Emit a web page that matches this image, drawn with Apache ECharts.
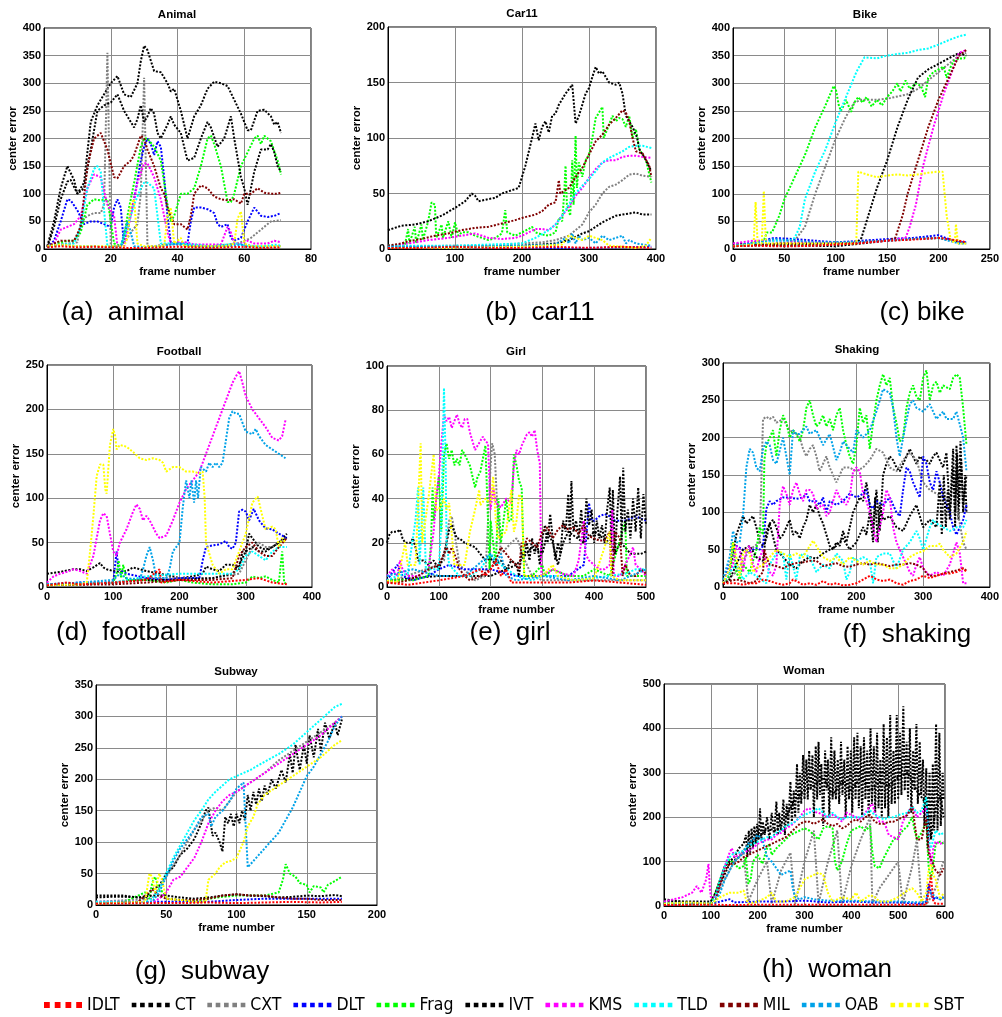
<!DOCTYPE html>
<html>
<head>
<meta charset="utf-8">
<script src="https://cdn.jsdelivr.net/npm/echarts@6/dist/echarts.min.js"></script>
<style>
html, body { margin: 0; padding: 0; background: #fff; }
#main { width: 1002px; height: 1017px; }
</style>
</head>
<body>
<div id="main"></div>
<script>
// trackers, in legend order
var trackers = ['IDLT', 'CT', 'CXT', 'DLT', 'Frag', 'IVT', 'KMS', 'TLD', 'MIL', 'OAB', 'SBT'];
var colors = ['#ff0000', '#000000', '#808080', '#0000ff', '#00ff00', '#000000', '#ff00ff', '#00ffff', '#800000', '#00a2e8', '#ffff00'];

var titles = ['Animal', 'Car11', 'Bike', 'Football', 'Girl', 'Shaking', 'Subway', 'Woman'];
var captions = ['(a)  animal', '(b)  car11', '(c) bike', '(d)  football', '(e)  girl', '(f)  shaking', '(g)  subway', '(h)  woman'];
var xMax = [80, 400, 250, 400, 500, 400, 200, 600];
var xStep = [20, 100, 50, 100, 100, 100, 50, 100];
var yMax = [400, 200, 400, 250, 100, 300, 350, 500];
var yStep = [50, 50, 50, 50, 20, 50, 50, 100];

// center error per frame, [frame, error]
var animal = {
  IDLT: [[1,3],[5,5],[10,3],[15,4],[20,3],[25,2],[30,2],[35,3],[40,4],[45,3],[50,2],[55,3],[60,4],[65,2],[71,3]],
  CT: [[1,5],[3,50],[5,110],[7,150],[9,125],[10,100],[12,120],[14,230],[16,260],[18,280],[20,300],[22,313],[24,280],[26,275],[28,300],[29,340],[30,368],[31,360],[33,322],[35,320],[37,300],[38,285],[39,290],[41,250],[43,200],[45,240],[47,260],[49,290],[51,303],[53,300],[55,295],[57,270],[59,245],[61,215],[62,215],[64,250],[66,252],[68,240],[69,225],[70,230],[71,210]],
  CXT: [[1,3],[4,8],[7,10],[10,12],[11,50],[13,60],[15,65],[17,65],[18,80],[19,355],[20,5],[22,5],[24,10],[26,30],[28,45],[29,100],[30,310],[31,5],[33,5],[36,8],[40,8],[45,5],[50,5],[55,8],[58,10],[60,15],[62,20],[65,35],[68,50],[71,52]],
  DLT: [[1,3],[3,15],[5,50],[7,90],[8,88],[10,70],[12,45],[14,50],[16,50],[18,45],[20,40],[21,75],[22,90],[23,75],[24,5],[25,40],[27,90],[29,160],[30,185],[31,200],[32,190],[33,170],[34,195],[35,185],[36,130],[37,60],[38,10],[40,10],[43,10],[44,50],[45,75],[47,75],[49,72],[51,65],[52,45],[53,40],[55,45],[56,20],[57,15],[59,20],[61,50],[63,75],[65,60],[67,58],[69,60],[71,65]],
  Frag: [[1,5],[3,10],[5,12],[7,15],[9,15],[11,30],[13,80],[15,90],[17,88],[19,90],[20,50],[21,10],[23,5],[24,20],[25,60],[27,120],[29,185],[30,200],[31,200],[33,185],[35,160],[37,80],[38,50],[39,60],[41,100],[43,100],[45,110],[47,150],[49,200],[50,205],[51,190],[53,150],[55,85],[56,85],[57,100],[59,150],[61,175],[63,200],[64,205],[65,190],[66,205],[68,195],[70,160],[71,135]],
  IVT: [[1,3],[3,40],[5,90],[7,122],[8,125],[10,100],[12,110],[14,180],[16,250],[18,260],[20,265],[22,280],[24,250],[26,230],[27,220],[28,235],[29,260],[30,230],[31,240],[32,255],[33,245],[34,210],[35,200],[37,225],[38,240],[39,225],[41,210],[43,160],[45,165],[47,200],[49,230],[50,220],[52,185],[54,200],[56,240],[57,200],[59,130],[60,110],[61,80],[63,140],[64,160],[65,180],[67,180],[68,190],[69,175],[70,150],[71,140]],
  KMS: [[1,5],[3,10],[5,35],[7,40],[9,45],[11,60],[13,110],[15,135],[17,130],[19,80],[20,70],[21,60],[22,5],[24,5],[26,60],[28,120],[30,155],[31,155],[33,130],[35,90],[37,30],[38,10],[40,12],[43,12],[45,8],[50,8],[53,8],[55,40],[56,30],[57,10],[59,10],[61,15],[63,10],[65,10],[67,10],[69,15],[71,12]],
  TLD: [[1,5],[5,8],[9,10],[11,40],[13,110],[15,145],[16,150],[17,140],[18,70],[19,5],[21,5],[23,5],[25,40],[27,80],[29,110],[30,120],[31,120],[33,110],[34,60],[35,10],[37,10],[40,10],[45,8],[50,5],[55,8],[58,10],[61,5],[65,5],[70,8],[71,5]],
  MIL: [[1,5],[3,10],[5,15],[7,15],[9,15],[11,40],[13,150],[15,200],[17,210],[19,180],[21,130],[22,128],[24,150],[26,160],[27,170],[29,205],[30,200],[31,180],[33,150],[35,110],[36,100],[37,75],[39,45],[41,45],[43,35],[44,60],[45,100],[47,115],[49,110],[51,95],[53,90],[55,88],[57,90],[59,82],[60,100],[62,100],[64,110],[66,102],[68,100],[70,100],[71,102]],
  OAB: [[1,3],[5,8],[10,5],[15,5],[20,3],[23,3],[24,30],[25,50],[26,30],[27,5],[30,3],[35,5],[40,10],[45,5],[50,3],[55,5],[60,8],[65,3],[71,5]],
  SBT: [[1,5],[5,8],[10,5],[15,5],[20,5],[24,5],[25,20],[26,80],[27,90],[28,10],[30,5],[36,5],[37,60],[38,75],[39,10],[41,20],[42,5],[45,5],[50,5],[55,5],[57,10],[58,55],[59,68],[60,10],[62,5],[65,5],[71,5]]
};

var car11 = {
  IDLT: [[0,1],[50,1],[100,2],[150,1],[200,1],[250,2],[300,1],[350,2],[393,1]],
  CT: [[0,1],[100,2],[200,3],[250,5],[270,8],[290,14],[300,16],[310,20],[320,24],[330,27],[340,30],[350,31],[360,32],[370,33],[380,31],[393,31]],
  CXT: [[0,2],[100,3],[150,3],[200,5],[230,6],[250,8],[270,12],[290,22],[300,33],[310,40],[320,50],[330,56],[340,58],[350,62],[360,67],[370,68],[380,66],[393,65]],
  DLT: [[0,2],[100,1],[200,1],[300,1],[393,2]],
  Frag: [[0,3],[25,3],[30,18],[32,5],[40,20],[42,5],[50,22],[52,8],[60,25],[65,42],[70,40],[72,10],[80,22],[82,10],[90,25],[95,10],[100,24],[105,12],[110,15],[120,15],[130,12],[140,10],[150,8],[160,10],[170,14],[175,35],[178,15],[190,12],[200,15],[210,18],[215,20],[220,15],[230,13],[240,12],[250,15],[255,28],[260,25],[263,50],[265,75],[267,40],[272,30],[275,80],[277,40],[280,102],[282,55],[285,78],[290,65],[295,80],[300,85],[305,100],[310,118],[315,123],[320,128],[322,100],[330,112],[335,120],[340,115],[345,118],[350,117],[355,110],[360,120],[365,100],[370,108],[375,90],[380,85],[385,80],[393,60]],
  IVT: [[0,17],[20,21],[40,22],[60,25],[80,30],[100,37],[115,43],[125,50],[130,48],[135,43],[150,45],[160,46],[170,50],[185,53],[195,55],[205,75],[215,100],[220,113],[225,98],[230,110],[235,115],[240,105],[245,120],[250,122],[255,130],[260,135],[265,140],[275,148],[280,113],[285,120],[290,130],[295,140],[300,145],[305,155],[310,164],[315,158],[320,160],[330,150],[340,148],[345,150],[350,140],[355,120],[365,110],[372,100],[375,90],[385,80],[393,70]],
  KMS: [[0,2],[30,5],[60,8],[90,10],[110,12],[130,14],[150,10],[170,9],[190,10],[200,12],[210,15],[220,18],[230,18],[240,17],[250,22],[260,30],[270,38],[280,48],[290,55],[300,64],[310,72],[320,78],[330,80],[340,80],[350,83],[360,84],[370,84],[380,83],[393,82]],
  TLD: [[0,3],[100,3],[200,5],[220,10],[240,17],[250,22],[260,30],[270,40],[280,50],[290,57],[300,63],[310,70],[320,78],[330,82],[340,85],[350,88],[360,92],[370,93],[380,93],[393,91]],
  MIL: [[0,3],[20,5],[30,7],[50,9],[70,12],[90,14],[110,17],[130,19],[150,20],[170,23],[190,26],[200,28],[220,31],[230,34],[240,40],[250,42],[255,62],[257,50],[270,55],[280,65],[290,73],[300,85],[310,97],[320,103],[330,112],[340,118],[350,125],[355,123],[360,115],[365,100],[370,88],[380,86],[390,75],[393,65]],
  OAB: [[0,2],[100,2],[200,3],[250,4],[265,10],[270,5],[275,14],[280,5],[285,12],[290,8],[300,10],[310,5],[320,12],[330,8],[340,10],[350,12],[355,5],[360,8],[370,5],[380,4],[393,3]],
  SBT: [[0,1],[100,1],[200,2],[260,4],[270,12],[280,10],[290,8],[300,12],[310,10],[320,8],[330,3],[350,2],[370,1],[385,3],[393,10]]
};

var bike = {
  IDLT: [[0,5],[20,6],[40,5],[60,5],[80,6],[100,8],[120,10],[150,15],[175,17],[200,20],[210,18],[220,15],[227,12]],
  CT: [[0,10],[25,8],[50,5],[75,6],[100,5],[125,10],[150,15],[175,18],[200,20],[215,15],[227,12]],
  CXT: [[0,5],[40,10],[60,15],[70,40],[80,100],[90,150],[100,200],[110,240],[118,265],[125,270],[140,270],[150,272],[170,280],[180,290],[190,305],[200,320],[210,335],[220,350],[227,355]],
  DLT: [[0,5],[20,12],[40,20],[60,18],[80,15],[100,12],[125,15],[150,18],[175,20],[200,25],[210,18],[220,12],[227,12]],
  Frag: [[0,5],[20,10],[30,15],[33,30],[38,30],[45,60],[50,90],[60,130],[70,170],[80,220],[90,260],[98,295],[100,290],[103,260],[105,250],[108,260],[110,270],[115,248],[118,265],[122,275],[126,265],[130,275],[135,258],[140,270],[145,260],[150,275],[155,285],[160,300],[163,285],[168,305],[172,290],[178,300],[183,295],[187,275],[190,310],[195,320],[200,325],[205,330],[208,310],[212,330],[215,340],[220,345],[225,345],[227,350]],
  IVT: [[0,5],[50,8],[100,10],[120,10],[125,20],[130,50],[140,110],[150,160],[160,220],[170,270],[175,290],[180,310],[190,325],[200,335],[210,345],[220,355],[227,350]],
  KMS: [[0,10],[20,15],[50,15],[75,12],[100,10],[125,12],[150,15],[168,20],[172,40],[178,80],[185,150],[195,220],[205,280],[215,330],[220,355],[227,360]],
  TLD: [[0,5],[20,10],[40,15],[55,15],[60,20],[65,40],[70,90],[80,140],[90,180],[100,230],[110,275],[120,320],[128,347],[140,345],[150,350],[160,353],[170,355],[180,360],[190,363],[200,370],[210,378],[220,385],[227,388]],
  MIL: [[0,5],[50,10],[100,10],[150,15],[158,20],[165,60],[170,100],[180,160],[190,220],[200,270],[210,310],[220,350],[227,360]],
  OAB: [[0,5],[20,10],[40,18],[60,15],[80,12],[100,12],[125,13],[150,15],[175,18],[200,20],[210,15],[220,10],[227,10]],
  SBT: [[0,5],[20,8],[22,85],[24,10],[28,10],[30,105],[32,10],[50,10],[100,10],[120,10],[122,140],[130,135],[140,130],[150,133],[160,135],[170,133],[180,135],[190,138],[200,140],[204,140],[208,60],[212,15],[216,12],[217,45],[219,10],[227,10]]
};

var football = {
  IDLT: [[0,2],[30,5],[50,3],[100,5],[150,8],[170,20],[172,5],[200,8],[250,5],[300,8],[320,10],[340,5],[362,3]],
  CT: [[0,15],[20,17],[40,20],[50,20],[60,18],[70,22],[80,27],[85,22],[90,20],[100,18],[110,17],[120,18],[130,22],[140,20],[150,18],[170,15],[190,12],[200,10],[220,12],[235,15],[240,23],[250,20],[260,18],[270,25],[280,25],[290,20],[295,40],[300,40],[305,60],[310,55],[320,45],[330,42],[340,45],[350,50],[362,60]],
  CXT: [[0,2],[100,5],[150,10],[200,10],[250,10],[290,15],[300,30],[310,45],[320,50],[330,45],[340,45],[350,50],[362,55]],
  DLT: [[0,3],[50,5],[100,5],[105,40],[108,20],[120,15],[150,10],[180,8],[200,10],[230,10],[235,30],[240,45],[250,47],[260,48],[270,52],[275,45],[280,43],[285,50],[290,85],[295,87],[300,85],[305,75],[312,88],[320,75],[330,66],[340,65],[350,60],[362,55]],
  Frag: [[0,2],[50,3],[100,5],[105,15],[108,30],[112,10],[115,25],[120,8],[150,8],[180,5],[200,8],[220,5],[250,3],[280,3],[300,5],[310,12],[320,10],[330,12],[340,8],[350,5],[355,40],[358,5],[362,3]],
  IVT: [[0,3],[50,3],[100,5],[150,8],[200,8],[250,10],[280,15],[290,25],[300,40],[310,45],[320,40],[330,40],[340,45],[350,50],[362,55]],
  KMS: [[0,5],[10,12],[20,15],[30,17],[40,20],[50,18],[60,15],[70,35],[80,75],[85,83],[90,80],[95,60],[100,40],[105,35],[110,50],[120,65],[130,85],[135,93],[140,88],[145,75],[150,80],[155,75],[165,60],[170,55],[180,58],[190,75],[200,95],[210,110],[220,120],[230,130],[240,150],[250,170],[260,190],[270,210],[280,230],[285,237],[290,243],[295,230],[300,215],[310,200],[320,190],[330,180],[340,168],[350,165],[355,170],[360,188]],
  TLD: [[0,3],[100,5],[150,12],[200,15],[250,15],[280,15],[290,20],[300,35],[310,40],[320,35],[330,30],[340,40],[350,45],[362,45]],
  MIL: [[0,2],[100,3],[150,5],[200,8],[250,8],[280,10],[290,35],[300,45],[310,50],[320,40],[330,35],[340,35],[350,45],[362,55]],
  OAB: [[0,3],[50,5],[100,8],[110,15],[120,10],[140,8],[145,20],[150,35],[155,45],[160,30],[165,10],[180,10],[185,20],[190,40],[195,45],[200,50],[205,90],[210,120],[215,100],[218,120],[222,95],[225,120],[228,100],[232,135],[240,130],[245,140],[250,135],[255,140],[260,135],[265,140],[270,165],[275,190],[280,198],[285,195],[290,195],[295,185],[300,175],[310,172],[315,178],[320,170],[330,160],[340,155],[350,150],[360,145]],
  SBT: [[0,2],[50,3],[60,5],[65,40],[70,80],[75,125],[80,138],[85,138],[88,110],[90,105],[95,160],[100,178],[103,170],[105,155],[110,160],[120,158],[130,152],[140,145],[150,143],[160,145],[170,143],[175,140],[180,130],[190,135],[200,135],[210,130],[220,130],[230,128],[235,130],[238,100],[240,50],[250,25],[260,15],[270,20],[280,20],[290,40],[300,60],[310,95],[318,102],[325,80],[330,65],[340,68],[345,65],[350,45],[355,55],[360,50]]
};

var girl = {
  IDLT: [[0,2],[40,1],[100,3],[150,5],[180,8],[190,5],[200,8],[210,12],[220,5],[230,8],[240,2],[300,2],[350,2],[400,3],[450,2],[500,1]],
  CT: [[0,3],[100,5],[200,5],[250,10],[280,18],[300,15],[310,25],[320,20],[330,10],[340,20],[350,25],[380,20],[400,25],[430,20],[440,15],[450,20],[460,18],[470,15],[480,15],[490,15],[500,16]],
  CXT: [[0,2],[100,10],[110,12],[120,30],[125,32],[130,25],[140,10],[170,3],[190,5],[200,55],[203,65],[208,60],[212,40],[220,15],[240,20],[250,22],[255,20],[260,15],[280,5],[300,3],[400,3],[500,3]],
  DLT: [[0,3],[20,10],[30,5],[50,3],[80,5],[100,8],[120,10],[150,8],[200,8],[250,5],[300,5],[330,5],[350,5],[380,10],[390,38],[395,30],[400,30],[410,32],[420,33],[430,32],[440,30],[450,30],[460,30],[470,31],[480,32],[490,31],[500,30]],
  Frag: [[0,3],[50,3],[80,5],[85,20],[88,45],[90,30],[95,40],[100,50],[105,25],[110,60],[115,65],[120,58],[125,62],[130,55],[135,58],[140,55],[145,62],[150,60],[160,55],[170,45],[175,50],[180,52],[185,58],[190,64],[195,30],[198,8],[200,30],[205,20],[210,10],[215,40],[220,20],[230,40],[235,30],[240,30],[245,60],[250,55],[255,48],[260,45],[263,20],[265,5],[280,5],[300,10],[305,5],[320,8],[350,5],[380,5],[400,8],[430,5],[460,30],[463,5],[500,5]],
  IVT: [[0,20],[5,24],[10,25],[20,25],[25,26],[30,22],[35,20],[45,20],[50,22],[55,18],[60,12],[70,12],[80,10],[90,12],[100,8],[110,15],[115,20],[120,26],[125,28],[130,25],[135,22],[140,22],[150,20],[160,19],[170,18],[180,15],[190,12],[200,13],[210,10],[220,12],[230,8],[240,12],[250,10],[255,5],[260,16],[265,14],[270,20],[275,12],[280,22],[285,15],[290,20],[295,10],[300,22],[305,28],[310,20],[315,33],[320,22],[325,12],[330,20],[335,15],[340,30],[345,25],[350,42],[353,20],[356,48],[360,25],[365,30],[370,22],[375,35],[380,20],[385,40],[390,28],[395,35],[400,20],[405,30],[410,22],[415,28],[420,20],[425,35],[430,45],[433,20],[436,44],[440,15],[445,35],[450,50],[453,20],[456,54],[460,25],[465,35],[470,22],[475,40],[480,25],[485,45],[490,22],[495,42],[500,28]],
  KMS: [[0,5],[10,8],[20,5],[25,12],[30,8],[40,5],[60,5],[80,8],[90,25],[95,40],[100,50],[105,65],[110,78],[115,75],[120,77],[125,72],[130,75],[135,78],[140,74],[145,72],[150,76],[155,76],[160,70],[170,62],[180,66],[185,68],[190,66],[195,65],[200,35],[205,45],[210,38],[220,36],[230,40],[240,38],[245,55],[250,62],[255,60],[260,64],[270,69],[275,70],[280,68],[285,71],[290,62],[295,56],[298,5],[300,5],[320,8],[340,6],[360,5],[370,12],[380,30],[383,15],[390,12],[400,10],[410,8],[420,8],[430,10],[435,35],[438,5],[450,5],[460,10],[470,15],[475,18],[480,10],[490,8],[500,5]],
  TLD: [[0,3],[20,5],[40,6],[55,30],[60,45],[63,10],[70,45],[75,8],[100,8],[105,30],[110,90],[113,60],[115,20],[120,10],[140,5],[160,5],[180,8],[200,15],[220,10],[250,5],[280,3],[300,5],[330,5],[360,3],[400,4],[430,5],[460,6],[480,8],[500,8]],
  MIL: [[0,2],[20,2],[40,3],[60,5],[80,8],[100,10],[110,15],[115,18],[120,15],[125,18],[130,15],[135,12],[140,8],[150,5],[160,3],[180,5],[200,8],[210,12],[220,18],[230,15],[240,12],[250,10],[255,8],[260,20],[265,18],[270,22],[280,20],[290,18],[300,25],[310,27],[320,22],[330,26],[340,28],[350,26],[360,27],[370,24],[380,28],[390,23],[400,22],[410,21],[420,21],[430,25],[435,5],[440,25],[450,22],[455,5],[460,10],[470,5],[480,5],[490,8],[500,6]],
  OAB: [[0,5],[50,8],[100,5],[150,5],[200,15],[210,10],[220,15],[230,5],[250,3],[300,5],[350,3],[400,5],[450,3],[500,8]],
  SBT: [[0,3],[20,2],[35,20],[40,10],[55,10],[65,65],[68,20],[80,40],[90,60],[95,35],[100,35],[110,40],[115,35],[120,38],[130,10],[150,10],[160,25],[170,35],[178,44],[180,37],[190,40],[200,38],[205,50],[210,30],[215,22],[230,25],[240,44],[245,25],[250,30],[255,42],[260,40],[265,5],[300,5],[320,10],[330,5],[360,3],[400,4],[430,25],[433,5],[450,3],[500,3]]
};

var shaking = {
  IDLT: [[0,5],[20,5],[30,3],[40,5],[50,5],[60,10],[70,8],[80,5],[90,3],[100,5],[105,10],[110,8],[120,3],[130,5],[140,3],[150,8],[160,3],[170,5],[180,2],[190,3],[200,5],[210,10],[220,15],[225,13],[230,10],[240,8],[250,10],[260,5],[270,3],[280,8],[290,10],[300,15],[310,12],[320,15],[330,18],[340,18],[350,20],[360,25],[365,20]],
  CT: [[0,5],[10,20],[20,70],[30,95],[35,85],[40,90],[45,95],[50,80],[55,60],[60,55],[65,65],[70,85],[75,90],[80,80],[85,65],[90,70],[95,80],[100,90],[105,70],[110,75],[115,65],[120,80],[125,90],[130,110],[135,100],[140,110],[145,95],[150,85],[155,70],[160,55],[165,50],[170,60],[175,55],[180,75],[185,60],[190,80],[195,100],[200,110],[205,120],[210,115],[215,140],[220,110],[225,80],[230,130],[235,75],[240,150],[245,165],[250,175],[255,170],[260,160],[265,155],[270,165],[275,175],[280,185],[285,175],[290,165],[295,175],[300,170],[305,170],[310,165],[315,175],[320,180],[325,170],[330,160],[335,180],[340,100],[345,185],[348,80],[350,190],[353,90],[356,195],[360,100],[363,150],[365,100]],
  CXT: [[0,5],[20,20],[40,50],[55,60],[60,225],[65,228],[70,225],[75,228],[80,220],[90,225],[100,210],[110,205],[115,200],[120,185],[125,175],[130,185],[135,190],[140,175],[145,155],[150,165],[155,175],[160,160],[170,140],[175,150],[180,160],[190,160],[200,155],[210,160],[220,170],[230,185],[240,180],[250,160],[260,155],[270,170],[280,180],[290,170],[300,140],[310,130],[320,125],[330,120],[340,115],[350,110],[360,60],[365,50]],
  DLT: [[0,5],[10,30],[15,50],[20,55],[30,50],[40,48],[50,52],[55,50],[60,55],[65,105],[70,115],[75,110],[80,115],[90,120],[100,120],[110,118],[120,120],[125,125],[130,115],[140,115],[145,110],[150,120],[155,100],[160,115],[170,110],[180,115],[190,125],[200,120],[210,125],[215,130],[220,110],[225,105],[230,115],[240,110],[250,120],[255,110],[260,100],[265,95],[270,130],[275,160],[280,155],[285,140],[290,130],[295,120],[300,175],[305,165],[310,140],[315,130],[320,155],[325,140],[330,120],[340,100],[345,80],[350,70],[355,80],[360,90],[365,110]],
  Frag: [[0,5],[10,15],[15,60],[20,20],[25,10],[30,30],[40,20],[50,50],[55,80],[60,70],[62,170],[65,190],[70,200],[75,210],[80,175],[85,210],[90,230],[95,220],[100,200],[105,210],[110,205],[115,195],[120,210],[125,240],[130,250],[135,230],[140,215],[145,220],[150,230],[155,215],[160,225],[165,210],[170,230],[175,240],[180,210],[185,190],[190,175],[195,165],[200,190],[205,240],[210,220],[215,230],[220,185],[225,220],[230,250],[235,270],[240,285],[245,270],[250,280],[255,240],[260,220],[265,195],[270,200],[275,240],[280,260],[285,270],[290,255],[295,250],[300,280],[305,290],[310,250],[315,270],[320,275],[325,260],[330,270],[340,265],[345,280],[350,285],[355,280],[360,240],[365,190]],
  IVT: [[0,3],[10,10],[20,30],[30,50],[40,55],[50,40],[60,35],[65,75],[70,85],[80,50],[90,40],[100,30],[110,25],[120,35],[130,40],[140,38],[150,45],[160,50],[170,55],[180,65],[190,50],[200,60],[210,80],[215,70],[220,100],[225,60],[228,120],[232,60],[235,110],[240,90],[250,95],[260,80],[270,75],[280,95],[290,110],[300,80],[310,90],[320,80],[325,140],[328,70],[331,150],[334,80],[337,130],[340,90],[345,160],[348,100],[351,180],[354,110],[357,170],[360,110],[365,150]],
  KMS: [[0,5],[10,20],[15,30],[20,55],[25,50],[30,20],[35,50],[40,55],[45,30],[50,20],[55,40],[60,50],[65,30],[70,20],[75,15],[80,30],[85,110],[90,135],[95,125],[100,110],[105,130],[110,140],[115,125],[120,115],[125,130],[130,130],[135,125],[140,105],[150,110],[155,95],[160,100],[170,130],[175,120],[180,115],[185,110],[190,120],[195,155],[200,160],[205,155],[210,125],[215,115],[220,100],[230,60],[240,100],[245,130],[250,120],[255,80],[260,60],[265,50],[270,40],[280,20],[285,15],[290,30],[295,40],[300,25],[310,15],[320,20],[330,15],[340,30],[350,60],[355,45],[360,5],[365,5]],
  TLD: [[0,5],[10,20],[20,30],[30,10],[40,20],[50,15],[60,8],[65,5],[70,30],[80,45],[90,45],[95,10],[100,45],[110,10],[115,40],[120,45],[130,40],[140,20],[150,30],[160,25],[170,45],[175,40],[180,35],[185,10],[190,20],[195,40],[200,35],[210,40],[220,35],[225,5],[230,40],[240,45],[250,45],[260,25],[270,50],[280,60],[290,75],[295,65],[300,50],[310,80],[315,90],[320,85],[330,80],[340,75],[350,80],[360,80],[365,90]],
  MIL: [[0,5],[10,8],[20,10],[30,8],[40,5],[50,8],[55,15],[60,20],[62,50],[65,40],[70,30],[80,28],[90,25],[100,30],[110,32],[120,33],[130,35],[140,35],[150,28],[160,30],[170,32],[180,28],[190,27],[200,30],[210,32],[220,30],[230,32],[240,30],[250,28],[260,30],[270,30],[280,32],[290,30],[300,25],[305,18],[310,15],[320,15],[330,18],[340,20],[350,22],[360,25],[365,22]],
  OAB: [[0,10],[10,40],[15,75],[20,60],[25,60],[30,95],[35,160],[40,185],[45,180],[50,160],[55,155],[60,185],[65,195],[70,190],[75,170],[80,165],[90,200],[95,175],[100,150],[105,210],[110,205],[115,205],[120,210],[125,215],[130,205],[140,210],[150,190],[160,205],[170,170],[175,180],[180,195],[190,185],[195,180],[200,210],[210,200],[220,210],[230,235],[240,265],[250,260],[255,240],[260,200],[265,175],[270,200],[280,245],[285,250],[290,240],[300,235],[310,245],[320,225],[330,235],[335,225],[345,225],[350,235],[360,200],[365,155]],
  SBT: [[0,5],[10,25],[15,60],[20,40],[25,15],[30,45],[35,50],[40,45],[45,20],[50,25],[60,30],[70,40],[80,50],[90,45],[100,40],[110,45],[120,40],[130,55],[135,62],[140,55],[150,40],[160,35],[170,40],[180,30],[190,40],[200,35],[210,30],[220,35],[230,30],[240,30],[250,25],[260,25],[270,30],[280,40],[290,45],[300,48],[310,55],[320,55],[325,58],[330,50],[340,40],[350,45],[360,60],[365,75]]
};

var subway = {
  IDLT: [[0,2],[40,3],[60,3],[80,4],[100,3],[120,4],[140,5],[160,4],[175,5]],
  CT: [[0,12],[10,13],[20,13],[30,12],[35,10],[40,25],[45,30],[50,50],[55,60],[60,80],[65,90],[70,105],[75,130],[78,150],[80,155],[83,110],[85,115],[88,100],[90,85],[92,140],[94,130],[96,145],[98,125],[100,145],[102,130],[104,150],[106,135],[108,175],[110,150],[112,180],[114,160],[116,185],[118,165],[120,190],[122,175],[125,200],[128,185],[132,215],[135,195],[138,240],[140,210],[142,255],[145,215],[148,255],[150,225],[152,270],[155,235],[158,280],[160,245],[163,290],[166,265],[170,290],[172,270],[175,295]],
  CXT: [[0,5],[40,10],[50,45],[60,80],[70,120],[80,150],[85,155],[90,150],[95,165],[100,180],[110,195],[120,210],[130,230],[140,245],[150,260],[160,275],[170,290],[175,300]],
  DLT: [[0,3],[40,5],[60,5],[80,5],[100,8],[120,10],[140,10],[160,10],[175,10]],
  Frag: [[0,3],[20,5],[30,15],[35,20],[38,10],[40,35],[42,45],[45,25],[48,20],[50,10],[60,8],[70,7],[80,10],[90,13],[100,15],[110,15],[120,15],[130,20],[133,40],[135,65],[138,50],[142,45],[145,35],[150,32],[152,20],[155,30],[160,28],[162,20],[165,32],[170,38],[175,45]],
  IVT: [[0,15],[10,15],[20,15],[30,12],[40,15],[50,15],[60,12],[70,10],[80,12],[90,15],[100,17],[110,15],[120,14],[130,12],[140,13],[150,15],[160,14],[170,16],[175,14]],
  KMS: [[0,5],[40,5],[45,10],[50,20],[55,40],[60,45],[65,60],[70,75],[75,100],[80,130],[85,150],[90,165],[95,175],[100,180],[110,195],[120,210],[130,225],[140,240],[150,255],[160,270],[170,290],[175,300]],
  TLD: [[0,5],[20,5],[35,5],[40,10],[45,25],[50,50],[55,75],[60,95],[65,115],[70,135],[75,150],[80,168],[85,180],[90,190],[95,200],[100,205],[110,215],[120,228],[130,240],[140,255],[150,275],[160,295],[170,315],[175,320]],
  MIL: [[0,2],[30,5],[40,25],[45,15],[50,10],[60,8],[70,8],[80,10],[90,15],[100,17],[110,15],[120,15],[130,12],[140,10],[150,10],[160,8],[175,8]],
  OAB: [[0,2],[40,5],[45,20],[50,45],[55,70],[60,90],[70,120],[75,140],[80,145],[82,125],[85,140],[90,150],[95,165],[100,185],[105,195],[108,60],[112,70],[120,90],[130,115],[140,155],[150,205],[155,220],[160,240],[165,260],[170,285],[175,300]],
  SBT: [[0,2],[35,5],[38,50],[40,45],[42,20],[45,50],[47,40],[50,10],[60,8],[70,5],[78,5],[80,40],[85,50],[88,60],[92,68],[96,70],[100,75],[105,100],[108,125],[112,140],[115,160],[120,175],[130,190],[140,205],[150,220],[160,235],[170,255],[175,262]]
};

var woman = {
  IDLT: [[0,2],[100,3],[150,2],[200,3],[300,3],[400,3],[500,3],[560,3],[565,30],[570,70],[575,10],[580,5],[597,5]],
  CT: [[0,15],[50,8],[100,5],[120,50],[140,95],[160,110],[180,140],[200,150],[220,175],[240,170],[260,200],[280,240],[300,260],[320,270],[340,290],[360,250],[380,280],[400,260],[420,290],[440,260],[460,280],[480,270],[500,290],[520,300],[540,260],[560,230],[570,150],[580,220],[590,250],[597,200]],
  CXT: [[0,5],[100,5],[120,40],[150,100],[170,120],[180,10],[200,60],[220,100],[230,5],[250,80],[270,120],[280,5],[300,100],[320,170],[330,5],[350,100],[370,170],[380,5],[400,90],[420,150],[440,200],[445,5],[460,40],[480,70],[500,100],[510,5],[530,90],[540,150],[550,5],[560,3],[570,20],[580,40],[590,80],[597,100]],
  DLT: [[0,3],[100,5],[140,15],[150,8],[200,10],[250,10],[300,12],[350,8],[400,10],[450,8],[500,8],[550,5],[560,10],[565,50],[570,30],[575,15],[580,20],[590,15],[597,20]],
  Frag: [[0,5],[100,5],[110,30],[120,60],[130,90],[140,105],[150,95],[160,85],[170,90],[175,110],[180,50],[185,60],[190,100],[200,115],[210,95],[220,130],[225,140],[230,115],[240,130],[250,140],[260,150],[270,160],[280,165],[290,170],[300,175],[310,170],[320,160],[330,150],[340,175],[350,180],[360,175],[365,100],[370,80],[380,100],[390,140],[400,170],[410,175],[420,180],[430,170],[440,180],[445,120],[450,90],[460,85],[470,110],[480,130],[490,150],[500,155],[510,170],[520,180],[530,200],[535,170],[540,150],[550,165],[560,190],[565,90],[570,60],[575,95],[580,140],[590,145],[597,140]],
  IVT: [[0,10],[50,10],[100,10],[110,30],[120,60],[130,90],[140,100],[150,110],[160,130],[170,140],[175,160],[178,110],[181,170],[184,120],[187,175],[190,130],[193,180],[196,140],[199,185],[202,150],[205,220],[208,150],[211,190],[215,160],[220,200],[225,150],[230,210],[235,160],[240,235],[243,160],[246,210],[250,170],[255,240],[258,160],[262,230],[265,180],[270,280],[273,190],[277,260],[280,200],[284,320],[287,210],[290,300],[293,230],[297,340],[300,240],[304,330],[307,240],[310,350],[313,260],[317,340],[320,200],[324,360],[327,240],[330,370],[333,250],[336,320],[340,180],[344,350],[347,260],[350,330],[353,200],[357,380],[360,240],[364,350],[367,240],[371,330],[374,230],[378,370],[381,250],[385,330],[388,200],[392,360],[395,240],[399,350],[402,210],[406,380],[409,240],[413,390],[416,220],[420,360],[423,200],[427,380],[430,240],[434,350],[437,200],[441,400],[444,230],[448,360],[451,210],[455,390],[458,220],[462,330],[465,200],[469,410],[472,220],[476,380],[479,200],[483,430],[486,230],[490,350],[493,230],[497,430],[500,240],[504,390],[507,250],[511,450],[514,260],[518,370],[521,240],[525,400],[528,210],[532,350],[535,260],[539,410],[542,230],[546,370],[549,250],[553,330],[556,180],[560,310],[563,130],[567,300],[570,150],[574,320],[577,170],[581,410],[584,170],[588,390],[591,180],[595,300],[597,240]],
  KMS: [[0,10],[20,15],[40,20],[60,30],[70,45],[80,30],[90,60],[95,95],[98,40],[100,20],[110,20],[120,50],[130,90],[140,120],[145,130],[150,110],[160,115],[170,120],[180,125],[190,130],[200,140],[210,145],[220,150],[230,150],[240,160],[250,165],[260,175],[270,180],[280,190],[290,200],[300,215],[310,220],[320,212],[330,210],[340,205],[350,200],[360,205],[370,200],[380,190],[390,210],[400,205],[410,200],[420,195],[430,210],[440,225],[445,230],[450,210],[460,190],[470,190],[480,160],[490,155],[500,150],[510,190],[520,210],[530,225],[540,200],[550,210],[560,220],[565,160],[570,90],[575,130],[580,145],[590,140],[597,145]],
  TLD: [[0,5],[100,5],[110,20],[120,60],[130,90],[140,110],[150,120],[160,120],[170,125],[180,135],[190,140],[200,145],[210,150],[220,155],[230,155],[240,165],[250,170],[260,180],[270,185],[280,190],[290,200],[300,205],[310,210],[320,215],[330,220],[340,210],[350,200],[360,210],[370,200],[380,195],[390,200],[400,200],[420,200],[440,215],[450,205],[460,200],[470,195],[480,200],[490,200],[500,205],[520,210],[530,225],[540,210],[550,215],[560,245],[565,150],[570,130],[580,170],[590,160],[597,165]],
  MIL: [[0,3],[100,5],[110,10],[120,50],[130,80],[140,95],[150,95],[160,100],[170,110],[180,115],[190,120],[200,125],[210,130],[220,135],[230,140],[240,145],[250,150],[260,155],[270,165],[280,175],[290,185],[300,190],[310,190],[320,185],[330,190],[340,195],[350,185],[360,180],[370,185],[380,175],[390,180],[400,190],[410,195],[420,190],[430,200],[440,205],[450,190],[460,185],[470,185],[480,190],[490,190],[500,195],[510,200],[520,205],[530,225],[540,150],[550,150],[560,200],[565,120],[570,105],[575,95],[580,80],[590,70],[597,85]],
  OAB: [[0,5],[100,5],[110,10],[120,30],[130,60],[140,80],[150,100],[160,110],[170,120],[180,140],[190,150],[200,160],[210,150],[220,110],[230,100],[240,85],[250,70],[260,75],[270,80],[275,40],[280,20],[290,15],[300,20],[320,15],[350,12],[400,12],[450,10],[500,10],[550,8],[560,10],[565,40],[570,30],[575,25],[580,20],[590,15],[597,20]],
  SBT: [[0,5],[50,8],[100,5],[120,20],[140,30],[160,30],[170,35],[175,15],[180,5],[200,10],[220,20],[230,30],[240,10],[260,10],[280,20],[290,40],[300,60],[310,65],[320,70],[330,75],[340,70],[350,30],[360,10],[380,20],[400,15],[410,30],[420,10],[440,25],[450,20],[460,10],[480,10],[500,20],[520,35],[530,40],[540,30],[550,10],[560,30],[565,80],[570,95],[575,70],[580,60],[590,15],[597,30]]
};

var plots = [animal, car11, bike, football, girl, shaking, subway, woman];

// layout: [left, top, width, height] of each plot box
var boxes = [
  [44, 28, 267, 221], [388, 27, 268, 222], [733, 28, 264, 221],
  [47, 365, 265, 222], [387, 366, 259, 221], [723, 363, 269, 224],
  [96, 685, 281, 220], [664, 684, 281, 222]
];
var titlePos = [[177, 15], [522, 14], [865, 15], [179, 352], [516, 352], [857, 350], [236, 672], [804, 671]];
var captionPos = [[123, 313], [540, 313], [922, 313], [121, 633], [510, 633], [907, 635], [202, 972], [827, 970]];

var FONT = 'Liberation Sans, Arial, Helvetica, sans-serif';

var grids = [], xAxes = [], yAxes = [], series = [], graphics = [];
plots.forEach(function (p, i) {
  var b = boxes[i];
  grids.push({ left: b[0], top: b[1], width: b[2], height: b[3], show: true, borderColor: '#000', borderWidth: 1, backgroundColor: '#fff' });
  xAxes.push({
    gridIndex: i, type: 'value', min: 0, max: xMax[i], interval: xStep[i],
    name: 'frame number', nameLocation: 'middle', nameGap: 17,
    nameTextStyle: { fontFamily: FONT, fontWeight: 'bold', fontSize: 11.5, color: '#000' },
    axisLine: { show: true, onZero: false, lineStyle: { color: '#000' } },
    axisTick: { show: false },
    axisLabel: { fontFamily: FONT, fontWeight: 'bold', fontSize: 11, color: '#000', margin: 4, showMinLabel: true, showMaxLabel: true },
    splitLine: { show: true, lineStyle: { color: '#8a8a8a', width: 1 } }
  });
  yAxes.push({
    gridIndex: i, type: 'value', min: 0, max: yMax[i], interval: yStep[i],
    name: 'center error', nameLocation: 'middle', nameGap: 25,
    nameTextStyle: { fontFamily: FONT, fontWeight: 'bold', fontSize: 11.5, color: '#000' },
    axisLine: { show: true, onZero: false, lineStyle: { color: '#000' } },
    axisTick: { show: false },
    axisLabel: { fontFamily: FONT, fontWeight: 'bold', fontSize: 11, color: '#000', margin: 3, showMinLabel: true, showMaxLabel: true },
    splitLine: { show: true, lineStyle: { color: '#8a8a8a', width: 1 } }
  });
  trackers.forEach(function (t, k) {
    series.push({
      name: t, type: 'line', xAxisIndex: i, yAxisIndex: i,
      data: p[t], symbol: 'none', showSymbol: false, clip: true,
      itemStyle: { color: colors[k] },
      lineStyle: { color: colors[k], width: 2, type: [2, 1.6] },
      z: t === 'IDLT' ? 3 : 2
    });
  });
  graphics.push({
    type: 'text', x: titlePos[i][0], y: titlePos[i][1],
    style: { text: titles[i], font: 'bold 11.5px ' + FONT, fill: '#000', align: 'center', verticalAlign: 'middle' }
  });
  graphics.push({
    type: 'text', x: captionPos[i][0], y: captionPos[i][1],
    style: { text: captions[i], font: '26px ' + FONT, fill: '#000', align: 'center', verticalAlign: 'middle' }
  });
});

var dots5 = 'path://M0,0h5v5h-5zM9,0h5v5h-5zM18,0h5v5h-5zM27,0h5v5h-5zM36,0h5v5h-5z';
var dots4 = 'path://M0,0h7v7h-7zM13,0h7v7h-7zM26,0h7v7h-7zM39,0h7v7h-7z';

var chart = echarts.init(document.getElementById('main'));
chart.setOption({
  animation: false,
  backgroundColor: '#fff',
  grid: grids,
  xAxis: xAxes,
  yAxis: yAxes,
  legend: {
    left: 44, top: 996, width: 958, padding: 0, itemWidth: 38, itemHeight: 6, itemGap: 12,
    data: trackers.map(function (t, k) { return { name: t, icon: k === 0 ? dots4 : dots5 }; }),
    textStyle: { fontFamily: 'Liberation Sans Narrow, DejaVu Sans Condensed, Arial Narrow, sans-serif', fontSize: 17.5, color: '#000' },
    selectedMode: false
  },
  graphic: graphics,
  series: series
});
</script>
</body>
</html>
